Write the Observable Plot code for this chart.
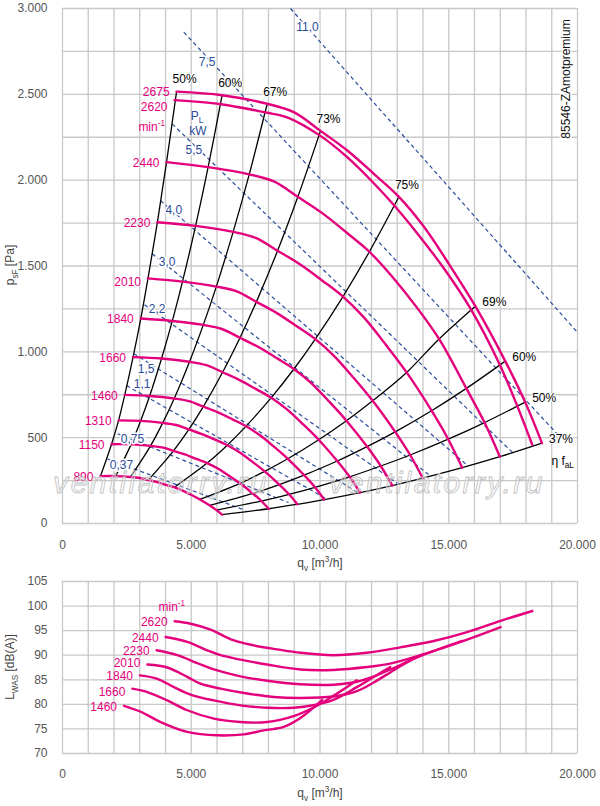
<!DOCTYPE html>
<html><head><meta charset="utf-8">
<script src="https://cdn.jsdelivr.net/npm/d3@7"></script>
<script src="https://cdn.jsdelivr.net/npm/@observablehq/plot@0.6"></script>
<style>
body{margin:0;background:#fff;}
#chart svg{display:block;}
</style>
</head><body><div id="chart"></div>
<script>
// ---------- DATA ----------
const xTickValues = [0, 5000, 10000, 15000, 20000];
const xTickLabels = ["0", "5.000", "10.000", "15.000", "20.000"];
const pTickValues = [0, 500, 1000, 1500, 2000, 2500, 3000];
const pTickLabels = ["0", "500", "1.000", "1.500", "2.000", "2.500", "3.000"];
const lTickValues = [70, 75, 80, 85, 90, 95, 100, 105];
const lTickLabels = ["70", "75", "80", "85", "90", "95", "100", "105"];
const qGrid = [0,1000,2000,3000,4000,5000,6000,7000,8000,9000,10000,11000,12000,13000,14000,15000,16000,17000,18000,19000,20000];
const pGrid = [0,250,500,750,1000,1250,1500,1750,2000,2250,2500,2750,3000];
const lGrid = [70,75,80,85,90,95,100,105];

// pressure curves q [m3/h], p [Pa]
const p2675 = [[4430,2516],[6200,2495],[7950,2445],[9000,2395],[10020,2287],[11060,2173],[12090,2037],[13065,1903],[14030,1730],[15065,1498],[16032,1266],[17194,946],[17968,707],[18620,468]];
const p2620 = [[4349,2466],[6150,2442],[7900,2394],[8750,2365],[10019,2258],[11056,2134],[12089,1982],[12866,1855],[13750,1695],[14850,1478],[15850,1250],[16950,935],[17620,700],[18240,460]];
const p2440 = [[4040,2105],[5655,2076],[7252,2034],[8209,1993],[9140,1903],[10088,1808],[11028,1695],[11917,1583],[12798,1439],[13742,1262],[14624,1075],[15684,787],[16390,588],[16984,389]];
const p2230 = [[3685,1755],[5169,1734],[6627,1699],[7503,1664],[8353,1589],[9220,1510],[10079,1416],[10892,1322],[11696,1202],[12559,1041],[13365,880],[14334,657],[14979,491],[15522,325]];
const p2010 = [[3320,1428],[4659,1409],[5974,1380],[6763,1352],[7529,1291],[8311,1227],[9084,1150],[9817,1074],[10542,977],[11320,846],[12046,715],[12920,534],[13501,399],[13991,264]];
const p1840 = [[3040,1194],[4265,1180],[5468,1157],[6191,1133],[6892,1082],[7608,1028],[8316,964],[8987,900],[9651,819],[10363,709],[11028,599],[11827,448],[12359,335],[12808,221]];
const p1660 = [[2740,969],[3847,961],[4933,942],[5585,922],[6218,881],[6863,837],[7503,784],[8108,733],[8706,666],[9349,577],[9949,488],[10670,364],[11150,272],[11555,180]];
const p1460 = [[2418,749],[3384,743],[4339,728],[4912,713],[5469,681],[6036,647],[6599,607],[7131,567],[7657,515],[8222,446],[8750,377],[9384,282],[9807,211],[10163,139]];
const p1310 = [[2178,601],[3036,598],[3893,586],[4407,574],[4907,548],[5416,521],[5921,489],[6398,456],[6871,415],[7378,359],[7851,304],[8420,227],[8799,170],[9119,112]];
const p1150 = [[1904,462],[2665,461],[3418,452],[3869,443],[4308,423],[4755,402],[5198,376],[5617,352],[6032,320],[6477,277],[6892,234],[7392,175],[7725,131],[8005,86]];
const p890  = [[1475,276],[2063,276],[2645,271],[2994,265],[3334,253],[3680,241],[4022,225],[4347,211],[4668,192],[5012,166],[5334,140],[5721,105],[5978,78],[6195,52]];

const speedsTop = [2675, 2620, 2440, 2230, 2010, 1840, 1660, 1460, 1310, 1150, 890];
const pressureCurves = [p2675, p2620, p2440, p2230, p2010, p1840, p1660, p1460, p1310, p1150, p890];

// efficiency lines run through the same-index points of the speed curves
const effCurves = [p890, p1150, p1310, p1460, p1660, p1840, p2010, p2230, p2440, p2675];
const effIndex  = [0, 1, 2, 4, 7, 10, 11, 12, 13];
const effLabels = ["50%", "60%", "67%", "73%", "75%", "69%", "60%", "50%", "37%"];

// shaft power lines P_L [kW]
const powerLabels = ["0,37","0,75","1,1","1,5","2,2","3,0","4,0","5,5","7,5","11,0"];
const powerStartQ = [1748, 2136, 2485, 2769, 3184, 3483, 3806, 4260, 4711, 8854];
const powerStartP = [376, 523, 804, 989, 1274, 1571, 1881, 2328, 2862, 3000];
const powerEndQ   = [7107, 8777, 10291, 11456, 13010, 14214, 15728, 17514, 19340, 20000];
const powerEndP   = [76, 122, 140, 181, 233, 285, 338, 408, 501, 1113];
const powerLabelQ = [2291, 2718, 3095, 3250, 3678, 4066, 4322, 5099, 5619, 9515];
const powerLabelP = [340, 493, 814, 901, 1247, 1522, 1823, 2177, 2687, 2889];
const powerUnitAt = [5243, 2371];

// sound power curves q [m3/h], L_WAS [dB(A)]
const L2620 = [[4354,96.9],[4974,96.4],[5749,95.2],[6654,93.0],[7429,92.0],[8333,91.2],[9238,90.5],[10520,90.0],[11819,90.5],[13118,91.6],[14417,92.9],[15716,94.7],[17015,97.0],[18249,99.0]];
const L2440 = [[4005,93.7],[4845,92.7],[5620,91.0],[6137,90.0],[6912,89.1],[7946,88.1],[9238,87.1],[10520,87.0],[11819,87.6],[12728,88.3],[13897,90.0],[15521,92.8],[17015,95.7]];
const L2230 = [[3656,91.0],[4457,90.0],[5233,88.4],[5879,87.1],[6912,85.7],[7946,84.8],[9238,84.1],[10520,84.0],[11429,84.6],[12100,85.7],[12728,87.1],[13897,89.8],[15521,92.9]];
const L2010 = [[3295,88.1],[4070,87.5],[4845,85.6],[5362,84.2],[6137,83.2],[7171,82.2],[8204,81.5],[9238,81.3],[10520,81.6],[11429,82.7],[12100,84.5],[12728,86.5],[13300,88.3],[13897,90.0]];
const L1840 = [[3010,85.9],[3682,85.2],[4328,83.5],[4974,82.0],[5879,80.8],[6912,79.8],[7946,79.3],[8979,79.3],[9800,79.9],[10520,80.9],[11429,83.5],[12100,85.6],[12728,87.6]];
const L1660 = [[2713,83.2],[3295,82.5],[4070,80.8],[4845,78.8],[5879,77.1],[6912,76.4],[7946,76.4],[8979,77.6],[9650,79.1],[10300,81.0],[10900,83.0],[11429,84.9]];
const L1460 = [[2390,79.7],[3036,78.5],[3811,76.4],[4845,74.4],[6008,73.7],[7042,73.9],[7817,74.7],[8592,75.4],[9238,77.2],[10085,80.9]];
const speedsBottom = [2620, 2440, 2230, 2010, 1840, 1660, 1460];
const soundCurves = [L2620, L2440, L2230, L2010, L1840, L1660, L1460];

// ---------- STYLE ----------
const PINK = "#e4007c", BLUE = "#2a4c9c", GRID = "#c8c8c8", TICK = "#555", TITLE = "#444";
const FONT = "'Liberation Sans', Arial, Helvetica, sans-serif";
const topLabelDy = {2620: 7, 2010: 4};      // label nudges (px)
const botLabelDy = {2010: -1, 1660: 3.5};

// ---------- TABLES ----------
const topRows = [];
speedsTop.forEach((n, i) => pressureCurves[i].forEach(([q, p]) => topRows.push({n, q, p})));
const effRows = [];
effIndex.forEach((k, j) => effCurves.forEach(c => effRows.push({e: j, q: c[k][0], p: c[k][1]})));
const effTips = effIndex.map((k, j) => ({q: p2675[k][0], p: p2675[k][1], t: effLabels[j], j}));
const speedStarts = speedsTop.map((n, i) => ({n, q: pressureCurves[i][0][0], p: pressureCurves[i][0][1]}));
const powerIdx = powerLabels.map((d, i) => i);

const botRows = [];
speedsBottom.forEach((n, i) => soundCurves[i].forEach(([q, l]) => botRows.push({n, q, l})));
const botStarts = speedsBottom.map((n, i) => ({n, q: soundCurves[i][0][0], l: soundCurves[i][0][1]}));

function richText(sel, x, y, parts, o = {}) {
  const size = o.size || 12;
  const t = sel.append("text")
    .attr("transform", `translate(${x},${y}) rotate(${o.rotate || 0})`)
    .attr("text-anchor", o.anchor || "start")
    .attr("font-family", FONT).attr("font-size", size)
    .attr("fill", o.fill || TITLE);
  if (o.halo) t.attr("stroke", "white").attr("stroke-width", 3).attr("paint-order", "stroke").attr("stroke-linejoin", "round");
  let shift = 0;
  parts.forEach(([s, k]) => {
    const target = k === "sub" ? 3.5 : k === "sup" ? -5 : 0;
    t.append("tspan").attr("dy", target - shift).attr("font-size", k ? size * 0.68 : size).text(s);
    shift = target;
  });
  return t;
}

// ---------- TOP CHART ----------
const topChart = Plot.plot({
  width: 600, height: 575,
  marginLeft: 62, marginRight: 23, marginTop: 8, marginBottom: 52,
  style: {fontFamily: FONT, fontSize: "12px", background: "white"},
  x: {domain: [0, 20000], axis: null},
  y: {domain: [0, 3000], axis: null},
  marks: [
    Plot.gridX({ticks: qGrid, stroke: GRID, strokeOpacity: 1, strokeWidth: 1.3}),
    Plot.gridY({ticks: pGrid, stroke: GRID, strokeOpacity: 1, strokeWidth: 1.3}),
    Plot.link(powerIdx, {x1: i => powerStartQ[i], y1: i => powerStartP[i], x2: i => powerEndQ[i], y2: i => powerEndP[i],
      stroke: BLUE, strokeWidth: 1.2, strokeDasharray: "4,3"}),
    Plot.line(effRows, {x: "q", y: "p", z: "e", stroke: "#000", strokeWidth: 1.3, curve: "catmull-rom"}),
    Plot.line(topRows, {x: "q", y: "p", z: "n", stroke: PINK, strokeWidth: 2.4, curve: "catmull-rom"}),
    Plot.text(powerIdx, {x: i => powerLabelQ[i], y: i => powerLabelP[i], text: i => powerLabels[i],
      fill: BLUE, stroke: "white", strokeWidth: 3, fontSize: 12}),
    ...speedStarts.map(d => Plot.text([d], {x: "q", y: "p", text: d => String(d.n), fill: PINK,
      textAnchor: "end", dx: -7, dy: topLabelDy[d.n] ?? 1, fontSize: 12})),
    Plot.text(effTips.filter(d => d.j < 5), {x: "q", y: "p", text: "t", fill: "#000", dx: 8, dy: -12, fontSize: 12,
      stroke: "white", strokeWidth: 2}),
    Plot.text(effTips.filter(d => d.j >= 5), {x: "q", y: "p", text: "t", fill: "#000", textAnchor: "start", dx: 7, dy: -4, fontSize: 12,
      stroke: "white", strokeWidth: 2}),
    Plot.axisX({ticks: xTickValues, tickFormat: d => xTickLabels[xTickValues.indexOf(d)], tickSize: 0, tickPadding: 17,
      color: TICK, fontSize: 12, label: null}),
    Plot.axisY({ticks: pTickValues, tickFormat: d => pTickLabels[pTickValues.indexOf(d)], tickSize: 0, tickPadding: 15,
      color: TICK, fontSize: 12, label: null})
  ]
});
{
  const sx = topChart.scale("x"), sy = topChart.scale("y");
  const svg = d3.select(topChart);
  ["ventilatorry.ru", "ventilatorry.ru"].forEach((w, i) => {
    svg.append("text").attr("x", i ? 437 : 161).attr("y", 493).attr("text-anchor", "middle")
      .attr("font-family", FONT).attr("font-style", "italic").attr("font-size", 30).attr("letter-spacing", 2.4)
      .attr("fill", "white").attr("fill-opacity", 0.2).attr("stroke", "#c4c4c4").attr("stroke-width", 0.9)
      .text(w);
  });
  richText(svg, 14, 265, [["p"], ["sF", "sub"], [" [Pa]"]], {rotate: -90, anchor: "middle"});
  richText(svg, 320, 567, [["q"], ["v", "sub"], [" [m"], ["3", "sup"], ["/h]"]], {anchor: "middle"});
  richText(svg, 569.5, 79, [["85546-ZAmotpremium"]], {rotate: -90, anchor: "middle", fill: "#111", halo: true});
  const s0 = p2620[0];
  richText(svg, sx.apply(s0[0]) - 9, sy.apply(s0[1]) + 31, [["min"], ["-1", "sup"]], {fill: PINK, anchor: "end"});
  richText(svg, sx.apply(powerUnitAt[0]), sy.apply(powerUnitAt[1]) + 4, [["P"], ["L", "sub"]], {fill: BLUE, anchor: "middle"});
  richText(svg, sx.apply(powerUnitAt[0]) + 1, sy.apply(powerUnitAt[1]) + 19, [["kW"]], {fill: BLUE, anchor: "middle"});
  const e = p2675[13];
  richText(svg, sx.apply(e[0]) + 10, sy.apply(e[1]) + 22, [["η f"], ["aL", "sub"]], {fill: "#000"});
}

// ---------- BOTTOM CHART ----------
const botChart = Plot.plot({
  width: 600, height: 231,
  marginLeft: 62, marginRight: 23, marginTop: 6, marginBottom: 53,
  style: {fontFamily: FONT, fontSize: "12px", background: "white"},
  x: {domain: [0, 20000], axis: null},
  y: {domain: [70, 105], axis: null},
  marks: [
    Plot.gridX({ticks: qGrid, stroke: GRID, strokeOpacity: 1, strokeWidth: 1.3}),
    Plot.gridY({ticks: lGrid, stroke: GRID, strokeOpacity: 1, strokeWidth: 1.3}),
    Plot.line(botRows, {x: "q", y: "l", z: "n", stroke: PINK, strokeWidth: 2.4, curve: "catmull-rom"}),
    ...botStarts.map(d => Plot.text([d], {x: "q", y: "l", text: d => String(d.n), fill: PINK, textAnchor: "end",
      dx: -7, dy: botLabelDy[d.n] ?? 1, fontSize: 12})),
    Plot.axisX({ticks: xTickValues, tickFormat: d => xTickLabels[xTickValues.indexOf(d)], tickSize: 0, tickPadding: 16,
      color: TICK, fontSize: 12, label: null}),
    Plot.axisY({ticks: lTickValues, tickFormat: d => lTickLabels[lTickValues.indexOf(d)], tickSize: 0, tickPadding: 15,
      color: TICK, fontSize: 12, label: null})
  ]
});
{
  const sx = botChart.scale("x"), sy = botChart.scale("y");
  const svg = d3.select(botChart);
  richText(svg, 14, 92, [["L"], ["WAS", "sub"], [" [dB(A)]"]], {rotate: -90, anchor: "middle"});
  richText(svg, 320, 222, [["q"], ["v", "sub"], [" [m"], ["3", "sup"], ["/h]"]], {anchor: "middle"});
  const s0 = L2620[0];
  richText(svg, sx.apply(s0[0]) + 11, sy.apply(s0[1]) - 10, [["min"], ["-1", "sup"]], {fill: PINK, anchor: "end"});
}

document.getElementById("chart").append(topChart, botChart);
</script>
</body></html>
